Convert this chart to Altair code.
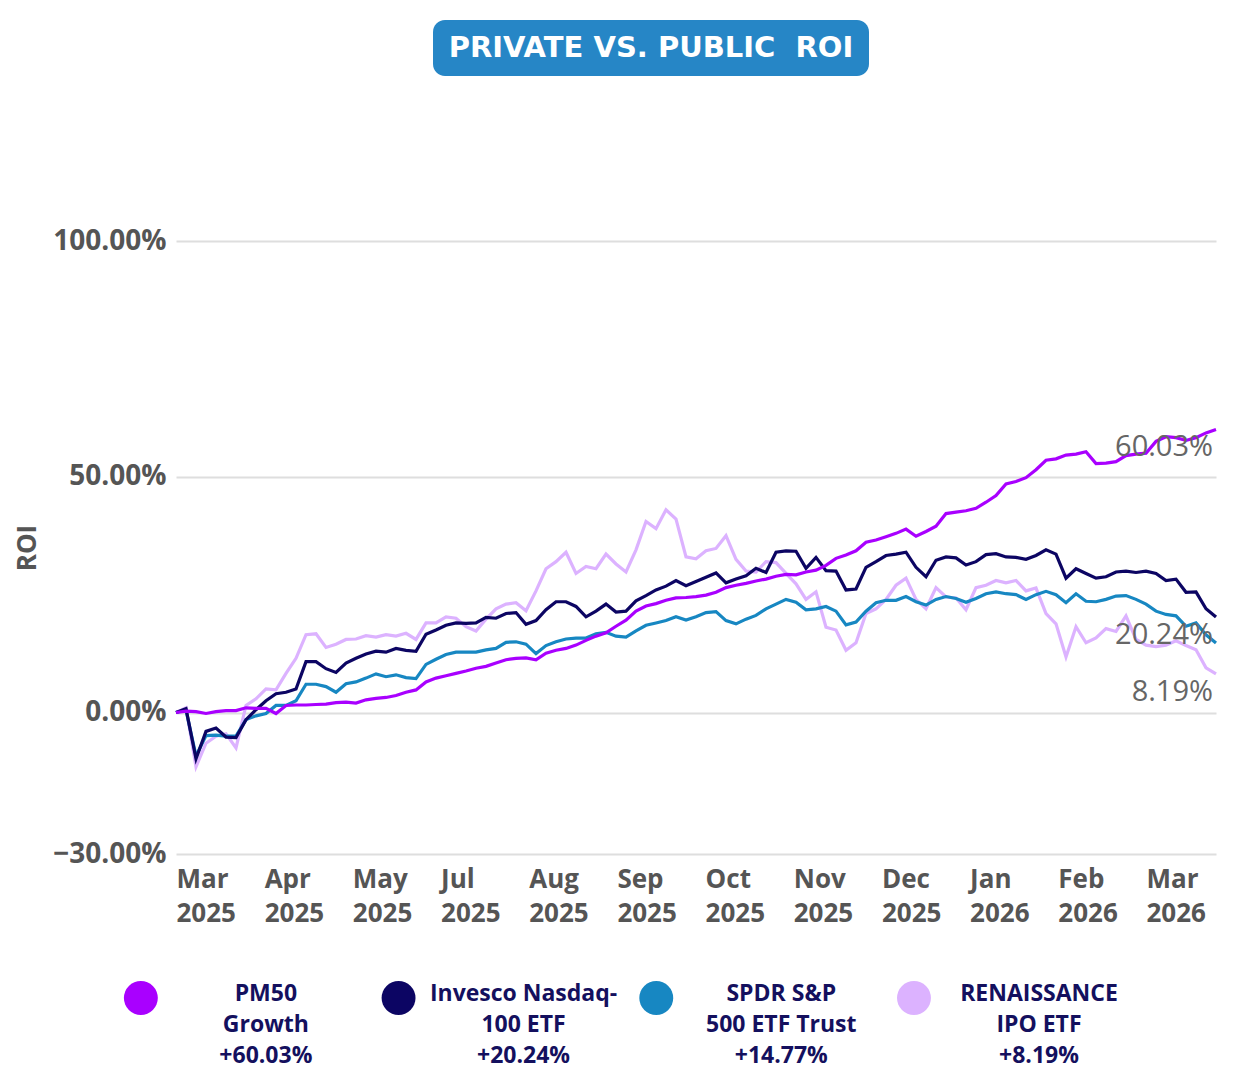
import altair as alt
import pandas as pd

# ---------------- data ----------------
series_names = ["PM50 Growth", "Invesco Nasdaq-100 ETF", "SPDR S&P 500 ETF Trust", "RENAISSANCE IPO ETF"]
legend_labels = ["PM50\nGrowth", "Invesco Nasdaq-\n100 ETF", "SPDR S&P\n500 ETF Trust", "RENAISSANCE\nIPO ETF"]
series_colors = ["#a900ff", "#0c0563", "#1787c2", "#dcb2ff"]
end_labelled = [True, True, False, True]

start_date = "2025-03-28T00:00:00"
end_date = "2026-04-09T10:00:00"
n_points = 105

pm50 = [0, 0.3, 0.2, -0.2, 0.2, 0.4, 0.4, 1.0, 0.9, 0.9,
        -0.2, 1.5, 1.6, 1.6, 1.7, 1.8, 2.1, 2.2, 2.0, 2.7,
        3.0, 3.2, 3.6, 4.3, 4.8, 6.5, 7.3, 7.8, 8.3, 8.8,
        9.4, 9.8, 10.5, 11.2, 11.5, 11.6, 11.2, 12.6, 13.2, 13.6,
        14.3, 15.3, 16.2, 16.9, 18.3, 19.6, 21.5, 22.6, 23.1, 23.8,
        24.3, 24.4, 24.6, 24.9, 25.5, 26.5, 27.0, 27.4, 27.9, 28.3,
        28.9, 29.3, 29.2, 29.8, 30.2, 31.2, 32.7, 33.4, 34.3, 36.1,
        36.6, 37.3, 38.0, 38.9, 37.4, 38.4, 39.5, 42.2, 42.5, 42.8,
        43.3, 44.6, 46.0, 48.5, 49.0, 49.8, 51.5, 53.5, 53.8, 54.6,
        54.8, 55.3, 52.8, 52.9, 53.2, 54.5, 54.8, 55.0, 57.5, 58.5,
        58.3, 57.7, 58.3, 59.3, 60.03]

qqq = [0, 0.8, -9.8, -4.0, -3.3, -5.2, -5.3, -1.5, 0.6, 2.5,
       4.0, 4.3, 5.0, 10.8, 10.8, 9.3, 8.5, 10.5, 11.5, 12.4,
       13.0, 12.8, 13.6, 13.2, 13.0, 16.6, 17.5, 18.5, 19.0, 18.9,
       19.0, 20.2, 20.0, 21.0, 21.2, 18.7, 19.5, 21.8, 23.5, 23.5,
       22.5, 20.3, 21.5, 23.0, 21.3, 21.5, 23.7, 24.8, 26.0, 26.8,
       28.0, 26.9, 27.8, 28.7, 29.6, 27.5, 28.3, 29.0, 30.6, 29.7,
       34.0, 34.3, 34.2, 30.6, 32.9, 30.1, 30.0, 26.0, 26.2, 30.8,
       32.0, 33.3, 33.6, 34.0, 30.8, 28.8, 32.3, 33.0, 32.8, 31.3,
       32.0, 33.5, 33.7, 33.0, 32.9, 32.5, 33.3, 34.5, 33.6, 28.5,
       30.5, 29.5, 28.5, 28.8, 29.8, 30.0, 29.7, 30.0, 29.5, 28.0,
       28.3, 25.5, 25.6, 22.0, 20.24]

spy = [0, 0.5, -9.2, -4.9, -4.8, -5.0, -5.0, -1.5, -0.7, -0.2,
       1.5, 1.5, 2.5, 6.0, 6.0, 5.5, 4.3, 6.1, 6.5, 7.3,
       8.2, 7.6, 8.0, 7.4, 7.2, 10.2, 11.3, 12.3, 12.8, 12.8,
       12.8, 13.3, 13.6, 14.9, 15.0, 14.5, 12.5, 14.2, 15.0, 15.6,
       15.8, 15.8, 16.7, 17.0, 16.2, 16.0, 17.3, 18.5, 19.0, 19.5,
       20.3, 19.6, 20.3, 21.2, 21.4, 19.5, 18.8, 19.8, 20.6, 22.0,
       23.0, 24.0, 23.4, 21.8, 22.0, 22.5, 21.5, 18.6, 19.2, 21.5,
       23.3, 23.8, 23.8, 24.6, 23.5, 22.8, 24.0, 24.6, 24.2, 23.4,
       24.2, 25.2, 25.6, 25.2, 25.0, 24.0, 25.0, 25.7, 25.0, 23.3,
       25.2, 23.6, 23.5, 24.0, 24.7, 24.8, 24.0, 23.0, 21.5, 20.8,
       20.5, 18.3, 19.0, 16.5, 14.77]

ipo = [0, 1.0, -11.5, -6.5, -5.0, -4.5, -7.5, 1.5, 2.9, 5.0,
       4.8, 8.3, 11.5, 16.5, 16.7, 13.8, 14.5, 15.5, 15.6, 16.3,
       16.0, 16.5, 16.2, 16.8, 15.5, 19.0, 19.0, 20.3, 20.0, 18.2,
       17.3, 19.8, 22.0, 23.0, 23.3, 21.6, 25.8, 30.5, 32.0, 34.0,
       29.5, 31.0, 30.5, 33.6, 31.5, 29.8, 34.5, 40.5, 39.0, 43.0,
       41.0, 33.0, 32.6, 34.3, 34.8, 37.5, 32.5, 30.0, 29.8, 32.0,
       31.8, 29.5, 27.3, 24.0, 25.6, 18.1, 17.5, 13.2, 14.8, 21.0,
       22.0, 24.0, 27.0, 28.5, 24.0, 22.0, 26.5, 24.5, 24.3, 21.8,
       26.5, 27.0, 28.0, 27.5, 28.0, 25.8, 26.4, 21.0, 18.8, 11.8,
       18.2, 14.8, 15.8, 17.8, 17.2, 20.5, 15.5, 14.3, 14.0, 14.3,
       15.2, 14.2, 13.3, 9.5, 8.19]

tick_dates = ["2025-03-28", "2025-04-29", "2025-05-31", "2025-07-02", "2025-08-03", "2025-09-04",
              "2025-10-06", "2025-11-07", "2025-12-09", "2026-01-10", "2026-02-11", "2026-03-15"]
y_ticks = [-30, 0, 50, 100]
y_domain = [-30, 100]
title_text = "PRIVATE VS. PUBLIC \u00a0ROI"

# ---------------- tables ----------------
dates = pd.date_range(start_date, end_date, periods=n_points)
date_str = [d.strftime("%Y-%m-%dT%H:%M:%S") for d in dates]
all_values = [pm50, qqq, spy, ipo]
rows = []
for name, vals in zip(series_names, all_values):
    for d, v in zip(date_str, vals):
        rows.append({"date": d, "series": name, "roi": v})
df = pd.DataFrame(rows)

end_rows = []
for name, vals, lab in zip(series_names, all_values, end_labelled):
    if lab:
        end_rows.append({"date": date_str[-1], "series": name, "roi": vals[-1]})
df_end = pd.DataFrame(end_rows)

leg_df = pd.DataFrame({
    "series": series_names,
    "label": [f"{lab}\n+{vals[-1]:.2f}%" for lab, vals in zip(legend_labels, all_values)],
})


def to_dt(s):
    t = pd.Timestamp(s)
    kw = dict(year=t.year, month=t.month, date=t.day)
    if t.hour:
        kw["hours"] = t.hour
    return alt.DateTime(**kw)


FONT = "Open Sans"
GRAY = "#555555"

color_enc = alt.Color("series:N", scale=alt.Scale(domain=series_names, range=series_colors), legend=None)

x_enc = alt.X(
    "date:T",
    title=None,
    scale=alt.Scale(domain=[to_dt(start_date), to_dt(end_date)], nice=False),
    axis=alt.Axis(
        values=[to_dt(t) for t in tick_dates],
        labelExpr="[timeFormat(datum.value, '%b'), timeFormat(datum.value, '%Y')]",
        labelAlign="left", labelBaseline="top", labelFont=FONT, labelFontSize=26,
        labelFontWeight="bold", labelColor=GRAY, labelLineHeight=34, labelPadding=12,
        labelOverlap=False, labelFlush=False, labelBound=False,
        grid=False, domain=False, ticks=False,
    ),
)
y_enc = alt.Y(
    "roi:Q",
    scale=alt.Scale(domain=y_domain, nice=False, zero=False),
    axis=alt.Axis(
        values=y_ticks, labelExpr="format(datum.value, '.2f') + '%'",
        title="ROI", titleFont=FONT, titleFontSize=26, titleFontWeight="bold", titleColor=GRAY,
        titlePadding=12,
        labelFont=FONT, labelFontSize=28, labelFontWeight="bold", labelColor=GRAY, labelPadding=10,
        grid=True, gridColor="#dedede", gridWidth=2, domain=False, ticks=False,
    ),
)

base = alt.Chart(df)
layers = []
for i in [3, 2, 1, 0]:
    layers.append(
        base.transform_filter(alt.datum.series == series_names[i])
        .mark_line(strokeWidth=3.2, interpolate="linear")
        .encode(x=x_enc, y=y_enc, color=color_enc)
    )
end_text = alt.Chart(df_end).transform_calculate(
    lbl="format(datum.roi, '.2f') + '%'"
).mark_text(
    align="right", baseline="middle", dx=-3, dy=18, font=FONT, fontSize=29, color="#666666"
).encode(x=x_enc, y=y_enc, text="lbl:N")

main = alt.layer(*layers, end_text).properties(width=1040, height=613)

# title box
title_df = pd.DataFrame({"title": [title_text]})
title_x = alt.X("title:N", axis=None, bandPosition=0.5,
                scale=alt.Scale(paddingInner=0, paddingOuter=0.6927, align=0.4255))
title_box = alt.Chart(title_df).mark_rect(color="#2686c6", cornerRadius=12).encode(
    x=alt.X("title:N", axis=None, scale=alt.Scale(paddingInner=0, paddingOuter=0.6927, align=0.4255))
)
title_txt = alt.Chart(title_df).mark_text(
    color="white", font="DejaVu Sans", fontWeight="bold", fontSize=29, baseline="middle"
).encode(x=title_x, text="title:N")
title_chart = alt.layer(title_box, title_txt).properties(width=1040, height=56)

# legend
leg_x = alt.X("series:N", axis=None, sort=series_names, bandPosition=0.5,
              scale=alt.Scale(type="band", paddingInner=0, paddingOuter=0.0178, align=0))
dots = alt.Chart(leg_df).mark_point(
    filled=True, shape="circle", size=1150, opacity=1, xOffset=-164, yOffset=4
).encode(x=leg_x, color=color_enc)
leg_text = alt.Chart(leg_df).mark_text(
    font=FONT, fontWeight="bold", fontSize=23, color="#14105e", lineBreak="\n",
    lineHeight=31, align="center", baseline="middle", dx=-39
).encode(x=leg_x, text="label:N")
legend_chart = alt.layer(dots, leg_text).properties(width=1040, height=38)

lower = alt.vconcat(main, legend_chart, spacing=49)
chart = alt.vconcat(title_chart, lower, spacing=151).properties(
    padding={"left": 6, "top": 12, "right": 0, "bottom": 6}
).configure_view(stroke=None)

chart.save("out.html", embed_options={"renderer": "svg", "actions": False})
